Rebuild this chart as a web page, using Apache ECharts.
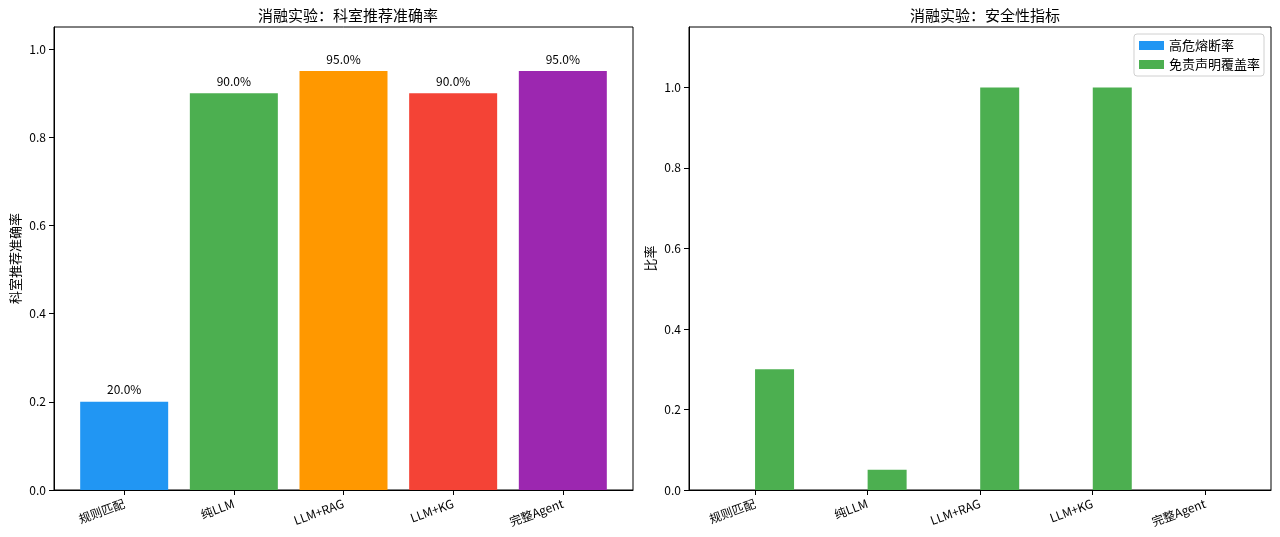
<!DOCTYPE html>
<html>
<head>
<meta charset="utf-8">
<script src="https://cdn.jsdelivr.net/npm/echarts@6/dist/echarts.min.js"></script>
<style>
html,body{margin:0;padding:0;background:#fff;}
#c{width:1280px;height:537px;}
</style>
</head>
<body>
<div id="c"></div>
<script>
const categories = ['规则匹配', '纯LLM', 'LLM+RAG', 'LLM+KG', '完整Agent'];
const accuracy = [0.20, 0.90, 0.95, 0.90, 0.95];
const barColors = ['#2196F3', '#4CAF50', '#FF9800', '#F44336', '#9C27B0'];
const circuitBreakRate = [0, 0, 0, 0, 0];
const disclaimerRate = [0.30, 0.05, 1.00, 1.00, 0.00];
const yTicks = [0, 0.2, 0.4, 0.6, 0.8, 1.0];
const xTicks = [0, 1, 2, 3, 4];

const FONT = '"Noto Sans CJK SC", "DejaVu Sans", sans-serif';
const chart = echarts.init(document.getElementById('c'));

function xAxisCfg(gridIndex, min, max) {
  return {
    type: 'value', gridIndex: gridIndex, min: min, max: max,
    splitLine: { show: false },
    axisLine: { show: true, onZero: false, lineStyle: { color: '#000', width: 1 } },
    axisTick: { show: true, length: 5, customValues: xTicks, lineStyle: { color: '#000' } },
    axisLabel: {
      customValues: xTicks, rotate: 20, margin: 13, color: '#000',
      fontFamily: FONT, fontSize: 12,
      formatter: v => categories[Math.round(v)]
    }
  };
}
function yAxisCfg(gridIndex, max, name) {
  return {
    type: 'value', gridIndex: gridIndex, min: 0, max: max,
    name: name, nameLocation: 'middle', nameGap: 32,
    nameTextStyle: { color: '#000', fontFamily: FONT, fontSize: 13 },
    splitLine: { show: false },
    axisLine: { show: true, onZero: false, lineStyle: { color: '#000', width: 1 } },
    axisTick: { show: true, length: 5, customValues: yTicks, lineStyle: { color: '#000' } },
    axisLabel: {
      customValues: yTicks, margin: 8, color: '#000', fontFamily: FONT, fontSize: 12,
      formatter: v => v.toFixed(1)
    }
  };
}

const option = {
  backgroundColor: '#fff',
  animation: false,
  textStyle: { fontFamily: FONT },
  title: [
    { text: '消融实验：科室推荐准确率', left: 343, top: 3, textAlign: 'center',
      textStyle: { fontSize: 15, fontWeight: 'normal', color: '#000', fontFamily: FONT } },
    { text: '消融实验：安全性指标', left: 980, top: 3, textAlign: 'center',
      textStyle: { fontSize: 15, fontWeight: 'normal', color: '#000', fontFamily: FONT } }
  ],
  legend: {
    orient: 'vertical', right: 16, top: 34,
    data: ['高危熔断率', '免责声明覆盖率'],
    icon: 'rect', itemWidth: 25, itemHeight: 9, itemGap: 6,
    padding: [5, 4, 5, 5],
    borderColor: '#d0d0d0', borderWidth: 1, borderRadius: 3,
    backgroundColor: 'rgba(255,255,255,0.8)',
    textStyle: { fontSize: 13, color: '#000', fontFamily: FONT }
  },
  grid: [
    { left: 54, right: 647, top: 27, bottom: 47, show: true, borderColor: '#000', borderWidth: 1, backgroundColor: '#fff' },
    { left: 689, right: 9, top: 27, bottom: 47, show: true, borderColor: '#000', borderWidth: 1, backgroundColor: '#fff' }
  ],
  xAxis: [ xAxisCfg(0, -0.64, 4.64), xAxisCfg(1, -0.585, 4.585) ],
  yAxis: [ yAxisCfg(0, 1.05, '科室推荐准确率'), yAxisCfg(1, 1.15, '比率') ],
  series: [
    {
      type: 'bar', xAxisIndex: 0, yAxisIndex: 0, barWidth: 88,
      data: accuracy.map((v, i) => ({ value: [i, v], itemStyle: { color: barColors[i] } })),
      label: {
        show: true, position: 'top', distance: 6, color: '#000', fontFamily: FONT, fontSize: 12,
        formatter: p => (p.value[1] * 100).toFixed(1) + '%'
      }
    },
    {
      name: '高危熔断率', type: 'bar', xAxisIndex: 1, yAxisIndex: 1, barWidth: 39, barGap: '-100%',
      itemStyle: { color: '#2196F3' },
      data: circuitBreakRate.map((v, i) => [i - 0.175, v])
    },
    {
      name: '免责声明覆盖率', type: 'bar', xAxisIndex: 1, yAxisIndex: 1, barWidth: 39, barGap: '-100%',
      itemStyle: { color: '#4CAF50' },
      data: disclaimerRate.map((v, i) => [i + 0.175, v])
    }
  ]
};
chart.setOption(option);
</script>
</body>
</html>
